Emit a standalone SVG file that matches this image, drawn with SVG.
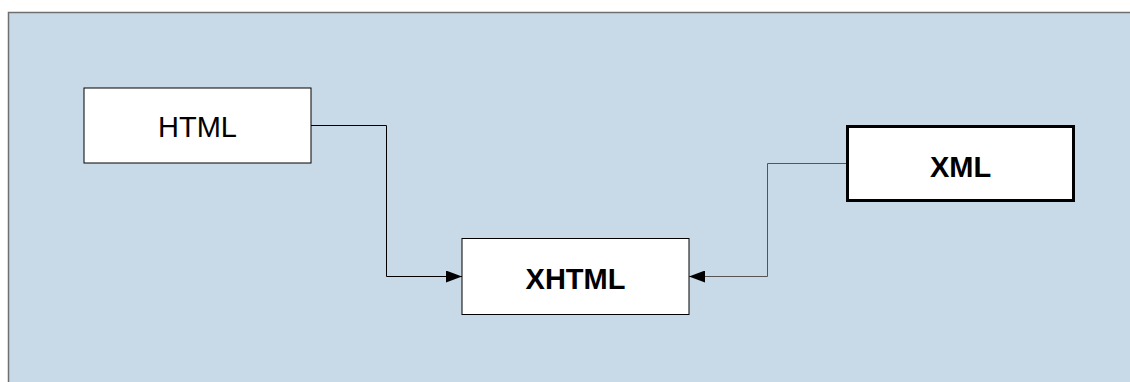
<svg xmlns="http://www.w3.org/2000/svg" width="1130" height="382" viewBox="0 0 1130 382">
<defs>
<style>
.node{fill:#ffffff;stroke:#000000;stroke-width:1}
.thick{stroke-width:3}
.lbl{font-family:"Liberation Sans",Arial,sans-serif;font-size:29px;fill:#000000;text-anchor:middle}
.bold{font-weight:bold}
.conn{fill:none;stroke:#000000;stroke-width:1}
.grey{stroke:#555555}
</style>
<marker id="arr" viewBox="0 0 16 12" refX="16" refY="6" markerWidth="16" markerHeight="12" markerUnits="userSpaceOnUse" orient="auto">
<path d="M0,0 L16,6 L0,12 Z" fill="#000000"/>
</marker>
</defs>
<rect x="8.5" y="12.5" width="1130" height="380" fill="#c8dae8" stroke="#6f6f6f" stroke-width="1.5"/>
<g id="connectors">
<path class="conn" d="M311,125.5 H386.5 V276.5 H462" marker-end="url(#arr)"/>
<path class="conn grey" d="M846,163.5 H767.5 V276.5 H689" marker-end="url(#arr)"/>
</g>
<g id="html">
<rect class="node" x="84" y="88" width="227" height="75"/>
<text class="lbl" x="197.5" y="136.5">HTML</text>
</g>
<g id="xhtml">
<rect class="node" x="462" y="238.5" width="227" height="76"/>
<text class="lbl bold" x="575.5" y="288.5">XHTML</text>
</g>
<g id="xml">
<rect class="node thick" x="847.5" y="126.5" width="226" height="74"/>
<text class="lbl bold" x="960.5" y="176.5">XML</text>
</g>
</svg>
